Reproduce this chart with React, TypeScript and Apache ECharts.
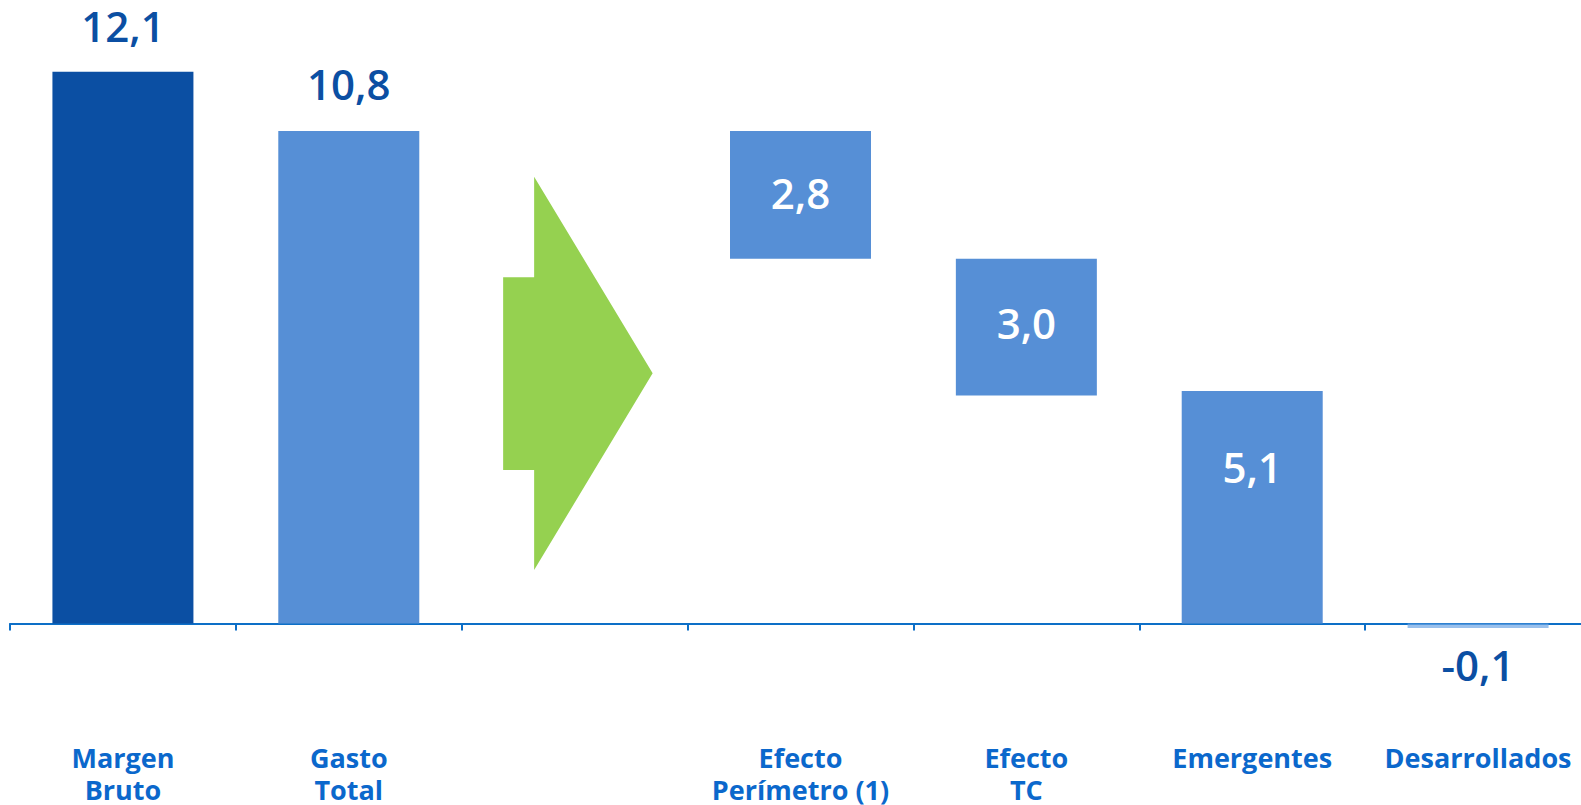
import React, { useEffect, useRef } from "react";
import * as echarts from "echarts";

const categories = [
  "Margen\nBruto",
  "Gasto\nTotal",
  "",
  "Efecto\nPerímetro (1)",
  "Efecto\nTC",
  "Emergentes",
  "Desarrollados",
];
const values: (number | null)[] = [12.1, 10.8, null, 2.8, 3.0, 5.1, -0.1];
const bases: (number | null)[] = [0, 0, null, 8.0, 5.0, 0, 0];
const barColors = ["#0b4fa3", "#568fd6", "#568fd6", "#568fd6", "#568fd6", "#568fd6", "rgba(110,165,228,0.7)"];
const arrowIndex = 2;

const fmt = (v: number | null) => (v == null ? "" : v.toFixed(1).replace(".", ","));

const FONT = "'Open Sans', 'DejaVu Sans', sans-serif";
const DARK = "#0b4fa3";

export default function App() {
  const ref = useRef<HTMLDivElement>(null);
  useEffect(() => {
    if (!ref.current) return;
    const chart = echarts.init(ref.current, undefined, { renderer: "svg" });

    const labelFor = (i: number) => {
      const base = {
        show: true,
        fontFamily: FONT,
        fontSize: 42,
        fontWeight: 600,
        formatter: () => fmt(values[i]),
      };
      if (i === 0) return { ...base, position: "top", distance: 25, color: DARK };
      if (i === 1) return { ...base, position: "top", distance: 27, color: DARK };
      if (i === 6) return { ...base, position: "bottom", distance: 15, color: DARK };
      const offs: Record<number, number> = { 3: -2, 4: -5, 5: -41 };
      return { ...base, position: "inside", color: "#ffffff", offset: [0, offs[i] ?? 0] };
    };

    const option: any = {
      animation: false,
      grid: { left: 10, top: 30.7, width: 1581, height: 592.8, outerBoundsMode: "none", containLabel: false },
      xAxis: {
        type: "category",
        data: categories,
        axisLine: { onZero: false, lineStyle: { color: "#0d6fc7", width: 2 } },
        axisTick: { show: true, length: 7, lineStyle: { color: "#0d6fc7", width: 2 } },
        axisLabel: {
          interval: 0,
          margin: 118,
          color: "#0b68cc",
          fontSize: 27,
          lineHeight: 32,
          fontWeight: "bold",
          fontFamily: FONT,
        },
        splitLine: { show: false },
      },
      yAxis: {
        type: "value",
        min: 0,
        max: 13,
        show: false,
        splitLine: { show: false },
      },
      series: [
        {
          type: "bar",
          stack: "w",
          barWidth: 141,
          silent: true,
          clip: false,
          itemStyle: { color: "transparent" },
          data: bases,
        },
        {
          type: "bar",
          stack: "w",
          barWidth: 141,
          clip: false,
          data: values.map((v, i) => ({
            value: v,
            itemStyle: { color: barColors[i] },
            label: labelFor(i),
          })),
        },
      ],
    };
    chart.setOption(option);

    const cx = chart.convertToPixel({ xAxisIndex: 0 }, arrowIndex) as number;
    const pts = [
      [cx - 71.5, 277.3],
      [cx - 40.5, 277.3],
      [cx - 40.5, 176.7],
      [cx + 78, 373.3],
      [cx - 40.5, 570],
      [cx - 40.5, 470],
      [cx - 71.5, 470],
    ];
    chart.setOption({
      graphic: [
        {
          type: "polygon",
          shape: { points: pts },
          style: { fill: "#95d150" },
          z: 10,
        },
      ],
    });

    return () => chart.dispose();
  }, []);
  return (
    <div
      ref={ref}
      style={{ position: "fixed", left: 0, top: 0, width: 1581, height: 805, background: "#fff", overflow: "hidden" }}
    />
  );
}
